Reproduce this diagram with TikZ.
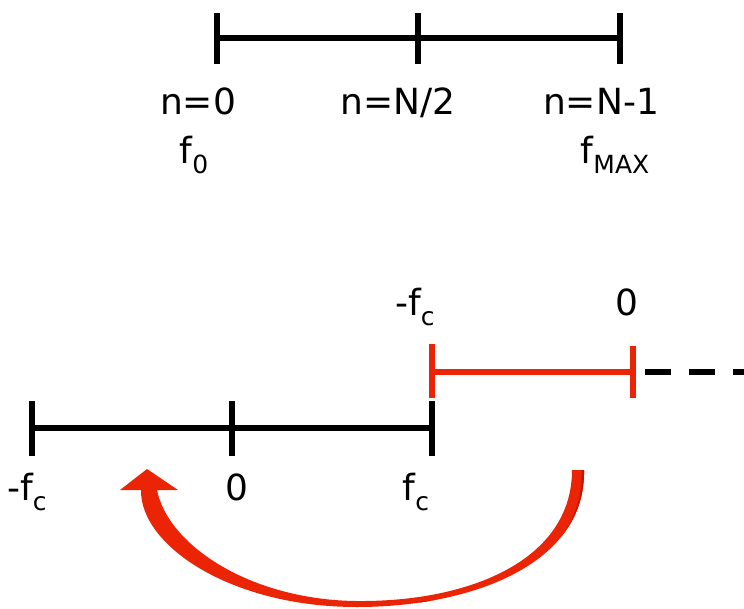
\documentclass[tikz,border=0pt]{standalone}
\usepackage{fontspec}
\setmainfont{DejaVu Sans}
\usetikzlibrary{positioning}
\definecolor{bandred}{RGB}{236,36,6}
\definecolor{darkred}{RGB}{196,22,4}
\newcommand{\lowidx}[1]{\raisebox{-0.3em}{\fontsize{25}{25}\selectfont #1}}
\newcommand{\bandpath}{(584,470) .. controls (586,565) and (470,607) .. (357,607)
      .. controls (230,607) and (140,545) .. (141,490)
      -- (157,490) .. controls (168,545) and (250,600) .. (357,601)
      .. controls (470,602) and (572,560) .. (572,470) -- cycle}

\begin{document}
\begin{tikzpicture}[x=1pt, y=-1pt,
  lbl/.style={anchor=base, inner sep=0pt, font=\fontsize{36}{40}\selectfont},
  axis/.style={line width=5.5pt},
  tick/.style={line width=6pt},
  redaxis/.style={line width=5.5pt, draw=bandred}]
  \useasboundingbox (0,0) rectangle (744,608);
  % top scale: samples n
  \coordinate (t0) at (217,38); \coordinate (t1) at (418,38); \coordinate (t2) at (620,38);
  \draw[axis] (t0) -- (t2);
  \foreach \p in {t0,t1,t2} \draw[tick] ([yshift=-26pt]\p) -- ([yshift=25pt]\p);
  \node[lbl] (n0) at (198,114) {n=0};
  \node[lbl] (nhalf) at (398,114) {n=N/2};
  \node[lbl] (nlast) at (601,114) {n=N-1};
  \node[lbl] (f0) at (194,163) {f\lowidx{0}};
  \node[lbl] (fmax) at (615,163) {f\lowidx{MAX}};
  % lower scale: frequencies
  \coordinate (b0) at (32,428); \coordinate (b1) at (232,428); \coordinate (b2) at (432,428);
  \draw[axis] (b0) -- (b2);
  \foreach \p in {b0,b1,b2} \draw[tick] ([yshift=-28pt]\p) -- ([yshift=27pt]\p);
  \node[lbl] (lfc) at (27,500) {-f\lowidx{c}};
  \node[lbl] (zero) at (237,500) {0};
  \node[lbl] (rfc) at (416,500) {f\lowidx{c}};
  % shifted (red) part
  \coordinate (r0) at (432,372); \coordinate (r1) at (633,372);
  \draw[line width=5.5pt, dash pattern=on 26pt off 18pt] (r1) ++(12,0) -- (744,372);
  \draw[redaxis] (r0) -- (r1);
  \draw[redaxis, line width=6pt] ([yshift=-26pt]r0) -- ([yshift=28pt]r0);
  \draw[redaxis, line width=6pt] ([yshift=-26pt]r1) -- ([yshift=26pt]r1);
  \node[lbl] (tfc) at (415,315) {-f\lowidx{c}};
  \node[lbl] (tzero) at (627,315) {0};
  % wrap-around arrow
  \fill[bandred] \bandpath;
  \begin{scope}
    \clip \bandpath;
    \draw[darkred, line width=9pt] (586,470) .. controls (588,560) and (500,600) .. (420,606);
  \end{scope}
  \fill[bandred] (147,469) -- (178,490) -- (120,490) -- cycle;
\end{tikzpicture}
\end{document}
